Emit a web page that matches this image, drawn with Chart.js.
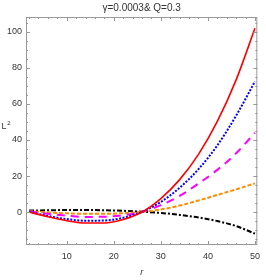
<!DOCTYPE html>
<html>
<head>
<meta charset="utf-8">
<script src="https://cdn.jsdelivr.net/npm/chart.js@4.4.0/dist/chart.umd.min.js"></script>
<style>
  html, body { margin: 0; padding: 0; background: #fff; }
  #wrap { width: 266px; height: 280px; }
</style>
</head>
<body>
<div id="wrap"><canvas id="chart" width="266" height="280"></canvas></div>
<script>
// DATA
const rValues = [2, 6, 10, 14, 18, 22, 26, 30, 34, 38, 42, 46, 50];
const redL2 = [0, -2.6, -4.8, -6.1, -6.1, -4.2, 0, 7.5, 18.0, 32.0, 50.3, 73.4, 102];
const blueL2 = [0.2, -2.2, -3.9, -4.8, -4.7, -3.2, 0.1, 5.6, 13.5, 23.8, 37.0, 53.5, 72.5];
const magentaL2 = [0.3, -1.0, -2.0, -2.7, -2.6, -1.8, 0.2, 3.8, 9.0, 15.8, 23.4, 32.6, 44];
const orangeL2 = [0.5, -0.2, -0.7, -1.0, -1.0, -0.6, 0.1, 1.4, 3.6, 6.4, 9.5, 12.6, 15.9];
const blackL2 = [0.8, 1.0, 1.1, 1.1, 1.0, 0.7, 0.2, -0.5, -1.6, -3.0, -5.0, -7.8, -12];

const xTicks = [10, 20, 30, 40, 50];
const yTicks = [0, 20, 40, 60, 80, 100];

const titleText = 'γ=0.0003& Q=0.3';
const FONT = "'Liberation Sans Narrow', 'Liberation Sans', Arial, sans-serif";
const frameColor = '#999';

function pts(ys) {
    return rValues.map((r, i) => ({ x: r, y: ys[i] }));
}

function series(ys, color, dash, width) {
    return {
        data: pts(ys),
        borderColor: color,
        backgroundColor: color,
        borderWidth: width,
        borderDash: dash,
        borderCapStyle: 'butt',
        pointRadius: 0,
        cubicInterpolationMode: 'monotone',
        fill: false
    };
}

// frame, inward ticks and free labels (Mathematica style)
const framePlugin = {
    id: 'frame',
    afterDraw(chart) {
        const ctx = chart.ctx;
        const a = chart.chartArea;
        const xs = chart.scales.x;
        const ys = chart.scales.y;
        ctx.save();
        ctx.strokeStyle = frameColor;
        ctx.lineWidth = 1;
        ctx.strokeRect(a.left + 0.5, a.top + 0.5, a.right - a.left - 1, a.bottom - a.top - 1);

        ctx.beginPath();
        for (let v = 2; v <= 50; v += 2) {
            const px = Math.round(xs.getPixelForValue(v)) + 0.5;
            const len = v % 10 === 0 ? 4 : 2;
            ctx.moveTo(px, a.bottom); ctx.lineTo(px, a.bottom - len);
            ctx.moveTo(px, a.top); ctx.lineTo(px, a.top + len);
        }
        for (let v = -15; v <= 105; v += 5) {
            const py = Math.round(ys.getPixelForValue(v)) + 0.5;
            const len = v % 20 === 0 ? 4 : 2;
            ctx.moveTo(a.left, py); ctx.lineTo(a.left + len, py);
            ctx.moveTo(a.right, py); ctx.lineTo(a.right - len, py);
        }
        ctx.stroke();

        ctx.fillStyle = '#333';
        ctx.textAlign = 'center';
        ctx.textBaseline = 'middle';
        ctx.font = '10px ' + FONT;
        ctx.fillText(titleText, (a.left + a.right) / 2, 8);

        ctx.font = '9px ' + FONT;
        ctx.fillText('L', 4, 127);
        ctx.font = '6px ' + FONT;
        ctx.fillText('2', 9, 123);
        ctx.restore();
    }
};

new Chart(document.getElementById('chart'), {
    type: 'line',
    data: {
        datasets: [
            series(redL2, '#ff0000', [], 1.6),
            series(blueL2, '#0000ff', [2, 1.5], 2),
            series(magentaL2, '#ff00ff', [8, 6], 2),
            series(orangeL2, '#ff8c00', [4, 2], 2),
            series(blackL2, '#000000', [5, 2, 2, 2], 2)
        ]
    },
    options: {
        responsive: false,
        animation: false,
        layout: { padding: { top: 17, right: 4, left: 0, bottom: 0 } },
        plugins: {
            legend: { display: false },
            tooltip: { enabled: false }
        },
        scales: {
            x: {
                type: 'linear',
                min: 1.35,
                max: 50.5,
                afterBuildTicks: (s) => { s.ticks = xTicks.map(v => ({ value: v })); },
                afterFit: (s) => { s.height = 35; },
                grid: { display: false, drawTicks: false },
                border: { display: false },
                ticks: {
                    padding: 6,
                    color: '#333',
                    font: { family: FONT, size: 9 },
                    maxRotation: 0
                },
                title: {
                    display: true,
                    text: 'r',
                    color: '#333',
                    font: { family: FONT, size: 9, style: 'italic' },
                    padding: { top: 0, bottom: 2 }
                }
            },
            y: {
                type: 'linear',
                min: -18.3,
                max: 108.3,
                afterBuildTicks: (s) => { s.ticks = yTicks.map(v => ({ value: v })); },
                afterFit: (s) => { s.width = 26; },
                grid: { display: false, drawTicks: false },
                border: { display: false },
                ticks: {
                    padding: 4,
                    color: '#333',
                    font: { family: FONT, size: 9 }
                }
            }
        }
    },
    plugins: [framePlugin]
});
</script>
</body>
</html>
